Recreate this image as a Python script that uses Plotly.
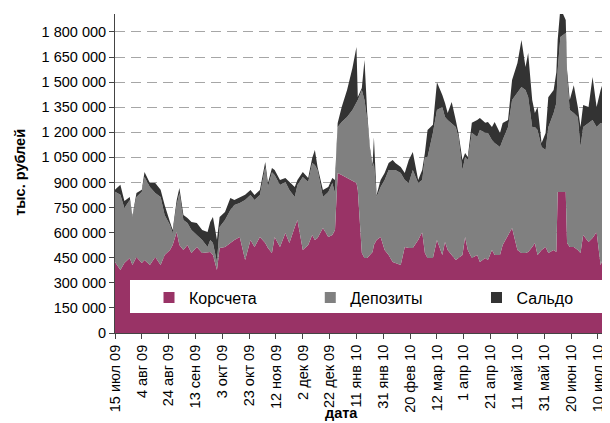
import pandas as pd
import plotly.graph_objects as go

# days since 15 Jul 2009
start = pd.Timestamp("2009-07-15")
day_offsets = [0, 4, 7, 11, 13, 16, 20, 22, 26, 30,
               34, 37, 41, 43, 46, 48, 51, 54, 57, 61,
               65, 69, 71, 73, 76, 78, 82, 86, 89, 93,
               97, 101, 104, 108, 112, 114, 117, 119, 123, 127,
               130, 134, 136, 140, 144, 147, 149, 151, 155, 159,
               162, 164, 166, 169, 173, 177, 180, 181, 184, 186,
               188, 190, 192, 193, 195, 198, 201, 204, 207, 209,
               213, 216, 219, 222, 226, 229, 231, 233, 237, 240,
               244, 246, 248, 251, 254, 256, 259, 261, 263, 266,
               270, 272, 276, 278, 281, 283, 287, 289, 293, 296,
               300, 303, 306, 308, 311, 313, 315, 318, 321, 323,
               327, 329, 330, 332, 336, 337, 339, 342, 345, 347,
               349, 353, 356, 359, 362, 364, 367, 369]

# values in thousands of "тыс. рублей"
korscheta = [425, 377, 419, 449, 407, 454, 419, 437, 407, 454,
             407, 466, 496, 526, 604, 526, 496, 526, 478, 514,
             478, 484, 484, 466, 377, 508, 514, 538, 556, 574,
             437, 556, 514, 574, 538, 508, 478, 574, 514, 598,
             538, 634, 676, 496, 526, 586, 556, 568, 628, 574,
             586, 616, 957, 945, 927, 909, 897, 855, 478, 449,
             449, 466, 484, 526, 556, 574, 496, 466, 425, 419,
             407, 514, 508, 508, 556, 604, 478, 449, 449, 556,
             466, 544, 496, 466, 437, 449, 466, 574, 496, 449,
             466, 425, 449, 437, 496, 466, 466, 526, 586, 628,
             496, 478, 478, 484, 514, 538, 466, 496, 514, 478,
             496, 484, 843, 843, 843, 538, 514, 514, 496, 478,
             586, 544, 568, 604, 407, 449, 478, 496]

depozity = [419, 449, 329, 347, 287, 359, 425, 496, 466, 383,
            407, 239, 150, 72, 161, 311, 179, 132, 138, 72,
            78, 30, 72, 72, 48, 126, 161, 197, 209, 203,
            359, 269, 281, 251, 454, 365, 484, 371, 371, 305,
            317, 179, 209, 437, 377, 431, 449, 407, 185, 269,
            311, 221, 275, 317, 365, 425, 478, 538, 975, 945,
            825, 628, 508, 490, 257, 299, 419, 508, 550, 556,
            550, 401, 389, 466, 341, 311, 574, 604, 748, 777,
            885, 748, 777, 789, 795, 724, 508, 478, 538, 748,
            706, 789, 748, 759, 658, 670, 646, 628, 646, 765,
            939, 993, 975, 927, 718, 694, 748, 616, 580, 753,
            819, 891, 730, 927, 951, 993, 819, 801, 795, 634,
            646, 712, 706, 628, 849, 807, 753, 736]

saldo = [12, 60, 42, 18, 6, 24, 12, 30, 24, 60,
         42, 60, 18, 18, 30, 30, 30, 30, 48, 72,
         60, 90, 108, 155, 132, 60, 48, 72, 30, 36,
         30, 30, 30, 30, 30, 24, 24, 30, 30, 24,
         48, 60, 30, 30, 24, 30, 90, 18, 42, 30,
         30, 78, 24, 90, 161, 251, 335, 18, 12, 239,
         42, 18, 12, 155, 12, 42, 42, 42, 60, 42,
         36, 42, 138, 108, 18, 60, 24, 161, 48, 167,
         72, 84, 42, 126, 42, 24, 60, 24, 18, 60,
         102, 72, 60, 66, 78, 126, 84, 102, 42, 120,
         179, 281, 138, 263, 161, 84, 138, 24, 102, 179,
         138, 185, 179, 173, 78, 42, 60, 167, 60, 120,
         132, 96, 257, 120, 197, 245, 120, 120]

tick_dates = ["2009-07-15", "2009-08-04", "2009-08-24", "2009-09-13", "2009-10-03",
              "2009-10-23", "2009-11-12", "2009-12-02", "2009-12-22", "2010-01-11",
              "2010-01-31", "2010-02-20", "2010-03-12", "2010-04-01", "2010-04-21",
              "2010-05-11", "2010-05-31", "2010-06-20", "2010-07-10"]
tick_labels = ["15 июл 09", "4 авг 09", "24 авг 09", "13 сен 09", "3 окт 09",
               "23 окт 09", "12 ноя 09", "2 дек 09", "22 дек 09", "11 янв 10",
               "31 янв 10", "20 фев 10", "12 мар 10", "1 апр 10", "21 апр 10",
               "11 май 10", "31 май 10", "20 июн 10", "10 июл 10"]

names = ["Корсчета", "Депозиты", "Сальдо"]
colors = ["#993366", "#808080", "#333333"]

dates = start + pd.to_timedelta(day_offsets, unit="D")

fig = go.Figure()
for name, vals, col in zip(names, [korscheta, depozity, saldo], colors):
    fig.add_trace(go.Scatter(x=dates, y=[v * 1000 for v in vals], name=name,
                             mode="lines", stackgroup="one",
                             line=dict(width=0, color=col), fillcolor=col,
                             showlegend=False, hoverinfo="skip"))
# square legend swatches like Excel, one small legend per entry
legend_ids = ["legend", "legend2", "legend3"]
for name, col, lid in zip(names, colors, legend_ids):
    fig.add_trace(go.Scatter(x=[None], y=[None], name=name, mode="markers",
                             marker=dict(symbol="square", size=11, color=col),
                             legend=lid))

leg = dict(orientation="h", xanchor="left", y=0.111, yanchor="middle",
           bgcolor="rgba(0,0,0,0)", font=dict(size=16))

fig.update_layout(
    width=610, height=423,
    # page body adds 8px offset, margins compensate
    margin=dict(l=107, r=8, t=6, b=98),
    paper_bgcolor="white", plot_bgcolor="white",
    font=dict(family="Liberation Sans, Arial", size=14.5, color="black"),
    separators=", ",
    showlegend=True,
    legend=dict(leg, x=0.0687),
    legend2=dict(leg, x=0.3945),
    legend3=dict(leg, x=0.7303),
    shapes=[dict(type="rect", xref="paper", yref="paper", x0=0.0303, x1=0.99,
                 y0=0.0627, y1=0.166, fillcolor="white", line_width=0, layer="above")],
    annotations=[
        dict(text="<b>тыс. рублей</b>", xref="paper", yref="paper", x=-0.192, y=0.505,
             xanchor="center", yanchor="middle",
             textangle=-90, showarrow=False, font=dict(size=14.5)),
        dict(text="<b>дата</b>", xref="paper", yref="paper", x=0.457, y=-0.252,
             xanchor="center", yanchor="middle",
             showarrow=False, font=dict(size=14.5)),
    ],
)
fig.update_xaxes(type="date", range=[start, start + pd.Timedelta(days=369)],
                 tickvals=tick_dates, ticktext=tick_labels, tickangle=-90,
                 ticks="outside", ticklen=5, tickcolor="#444", showline=True,
                 linecolor="#444", showgrid=False, zeroline=False, automargin=False)
fig.update_yaxes(range=[0, 1907600], tick0=0, dtick=150000, tickformat=",d",
                 ticks="outside", ticklen=5, tickcolor="#444", showline=True,
                 linecolor="#444", showgrid=True, gridcolor="#a6a6a6",
                 griddash="10px,6px", zeroline=False, automargin=False)

fig.write_html("out.html")
